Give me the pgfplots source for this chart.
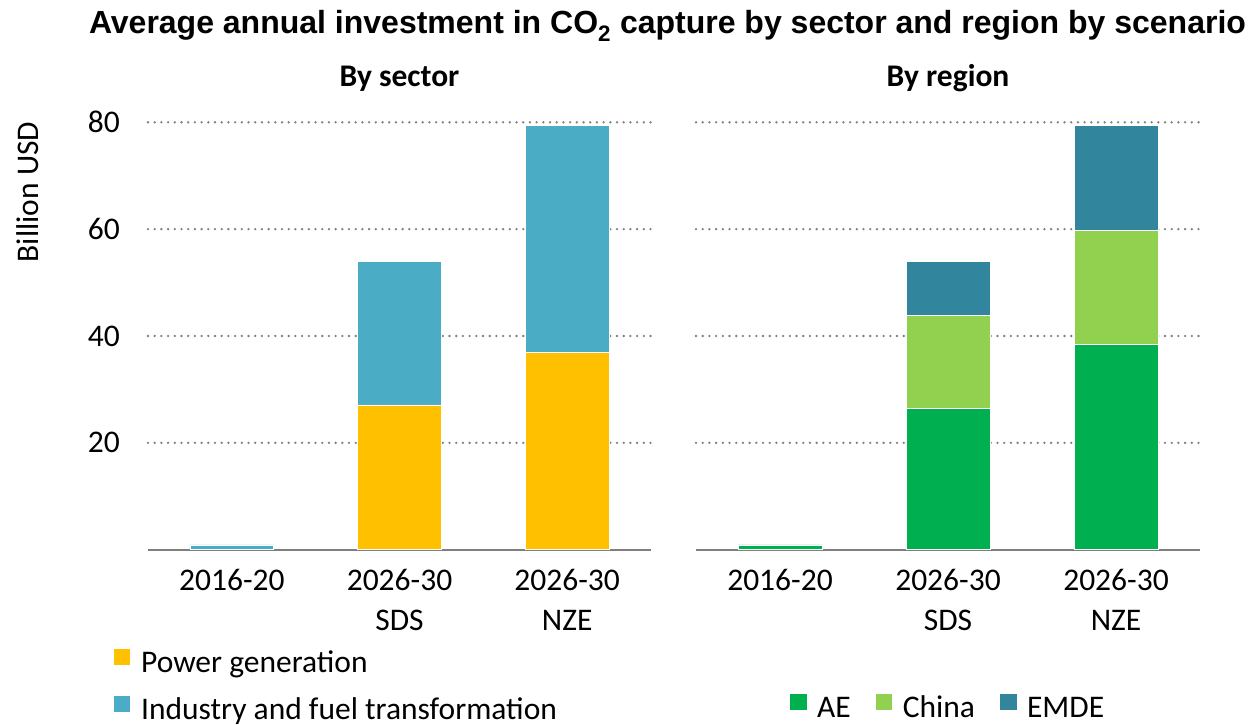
\documentclass[border=0pt]{standalone}
\usepackage{fontspec}
\setmainfont{Carlito}
\newfontfamily\titlefont{Liberation Sans}
\usepackage{pgfplots}
\pgfplotsset{compat=1.18}
\definecolor{power}{HTML}{FFC000}
\definecolor{industry}{HTML}{4BACC6}
\definecolor{ae}{HTML}{00B050}
\definecolor{china}{HTML}{92D050}
\definecolor{emde}{HTML}{31859C}
\definecolor{gridgray}{HTML}{808080}
\definecolor{basegray}{HTML}{7F7F7F}
\newcommand{\lblfont}{\fontsize{31.5bp}{40bp}\selectfont}
\pgfplotsset{
  myaxis/.style={
    scale only axis, width=503bp, height=427.4bp,
    ybar stacked, bar width=0.5,
    xmin=-0.5, xmax=2.5, ymin=0, ymax=80,
    xtick={0,1,2},
    xticklabels={2016-20,{2026-30\\SDS},{2026-30\\NZE}},
    ytick={20,40,60,80},
    ymajorgrids,
    major grid style={draw=gridgray, line width=2.6bp, line cap=round, dash pattern=on 0bp off 6.7bp},
    axis x line*=bottom, axis y line*=left,
    x axis line style={draw=basegray, line width=2bp, -},
    y axis line style={draw=none},
    major tick length=0pt,
    tick label style={font=\lblfont, inner sep=0pt},
    xticklabel style={align=center, anchor=north, yshift=-19bp},
    yticklabel style={anchor=east, xshift=-28bp},
    title style={font=\bfseries\lblfont, anchor=base, at={(0.5,1)}, yshift=30bp, inner sep=0pt},
    every axis plot/.append style={draw=white, line width=0.6bp},
    legend cell align=left,
    legend style={draw=none, fill=none, inner sep=0pt, outer sep=0pt, font=\lblfont,
      nodes={inner sep=0pt, text height=21bp, text depth=7bp},
      /tikz/every odd column/.append style={column sep=10bp},
      /tikz/every even column/.append style={column sep=24bp}},
  }
}
\begin{document}
\begin{tikzpicture}[x=1bp,y=1bp]
\path[use as bounding box] (0,0) rectangle (1252,725);
\node[anchor=base, font=\titlefont\bfseries\fontsize{32bp}{38bp}\selectfont, inner sep=0pt] at (667.5,691) {Average annual investment in CO\textsubscript{2} capture by sector and region by scenario};
\begin{axis}[myaxis, at={(148bp,175.3bp)}, anchor=south west,
  title={By sector},
  yticklabels={20,40,60,80},
  ylabel={Billion USD},
  every axis y label/.style={at={(axis description cs:-0.2386,0.837)}, rotate=90, anchor=center, font=\lblfont, inner sep=0pt},
  legend image code/.code={\fill[#1] (0bp,0bp) rectangle (17.5bp,17.5bp);},
  legend style={at={(axis description cs:-0.0696,-0.3215)}, anchor=west, row sep=15bp},
]
\addplot[fill=power] coordinates {(0,0.1) (1,27.1) (2,37.0)};
\addplot[fill=industry] coordinates {(0,0.8) (1,26.9) (2,42.4)};
\legend{Power generation, Industry and fuel transformation}
\end{axis}
\begin{axis}[myaxis, at={(696bp,175.3bp)}, anchor=south west, width=504bp,
  title={By region},
  yticklabels={},
  legend columns=3,
  legend image code/.code={\fill[#1] (0bp,0bp) rectangle (17.5bp,17.5bp);},
  legend style={at={(axis description cs:0.1845,-0.3720)}, anchor=west},
]
\addplot[fill=ae] coordinates {(0,0.9) (1,26.5) (2,38.4)};
\addplot[fill=china] coordinates {(0,0) (1,17.3) (2,21.3)};
\addplot[fill=emde] coordinates {(0,0) (1,10.2) (2,19.7)};
\legend{AE, China, EMDE}
\end{axis}
\end{tikzpicture}
\end{document}
